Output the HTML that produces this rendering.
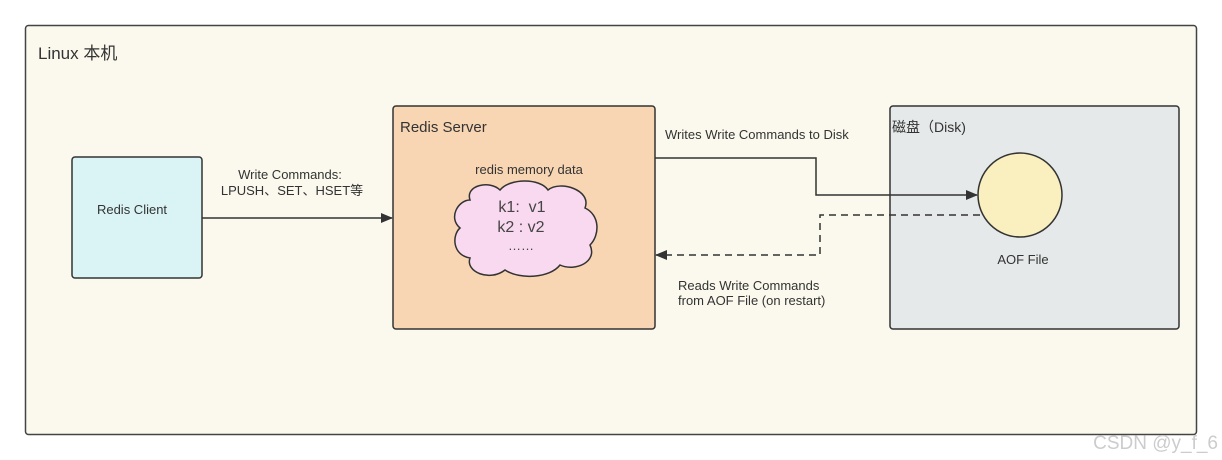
<!DOCTYPE html>
<html><head><meta charset="utf-8"><style>
html,body{margin:0;padding:0;background:#fff;}
svg{display:block;font-family:"Liberation Sans","Noto Sans CJK SC",sans-serif;}
</style></head><body>
<svg width="1222" height="460" viewBox="0 0 1222 460" xmlns="http://www.w3.org/2000/svg">
<defs>
<marker id="ah" markerWidth="12" markerHeight="10" refX="11" refY="5" orient="auto" markerUnits="userSpaceOnUse">
<path d="M0,0 L12,5 L0,10 Z" fill="#333"/></marker>
</defs>
<rect x="25.5" y="25.5" width="1171" height="409" rx="3" fill="#fbf9ed" stroke="#444" stroke-width="1.5"/>
<text x="38" y="59" font-size="17" fill="#333">Linux 本机</text>

<rect x="72" y="157" width="130" height="121" rx="3" fill="#daf4f6" stroke="#333" stroke-width="1.5"/>
<text x="132" y="214" font-size="13" fill="#333" text-anchor="middle">Redis Client</text>

<text x="290" y="179" font-size="13" fill="#333" text-anchor="middle">Write Commands:</text>
<text x="292" y="195" font-size="13" fill="#333" text-anchor="middle">LPUSH、SET、HSET等</text>
<line x1="202" y1="218" x2="392" y2="218" stroke="#333" stroke-width="1.5" marker-end="url(#ah)"/>

<rect x="393" y="106" width="262" height="223" rx="3" fill="#f8d5b3" stroke="#333" stroke-width="1.5"/>
<text x="400" y="132" font-size="15" fill="#333">Redis Server</text>
<text x="529" y="174" font-size="13" fill="#333" text-anchor="middle">redis memory data</text>
<path d="M470,200 C465,185 490,180 500,190 C510,178 540,178 548,190 C560,180 592,190 585,208 C600,215 600,235 590,245 C598,262 575,272 560,265 C550,278 520,280 505,270 C490,282 465,272 470,258 C452,255 452,235 460,228 C448,218 458,200 470,200 Z" fill="#f9d9ef" stroke="#333" stroke-width="1.5"/>
<text x="522" y="212" font-size="16" fill="#444" text-anchor="middle">k1:&#160; v1</text>
<text x="521" y="232" font-size="16" fill="#444" text-anchor="middle">k2 : v2</text>
<text x="521" y="250" font-size="13" fill="#444" text-anchor="middle">……</text>

<rect x="890" y="106" width="289" height="223" rx="3" fill="#e6e9ea" stroke="#333" stroke-width="1.5"/>
<text x="892" y="132" font-size="14" fill="#333">磁盘（Disk)</text>
<circle cx="1020" cy="195" r="42" fill="#f9efbf" stroke="#333" stroke-width="1.5"/>
<text x="1023" y="264" font-size="13" fill="#333" text-anchor="middle">AOF File</text>

<text x="665" y="139" font-size="13" fill="#333">Writes Write Commands to Disk</text>
<polyline points="655,158 816,158 816,195 977,195" fill="none" stroke="#333" stroke-width="1.5" marker-end="url(#ah)"/>
<polyline points="980,215 820,215 820,255 656,255" fill="none" stroke="#333" stroke-width="1.5" stroke-dasharray="7,5" marker-end="url(#ah)"/>
<text x="678" y="290" font-size="13" fill="#333">Reads Write Commands</text>
<text x="678" y="305" font-size="13" fill="#333">from AOF File (on restart)</text>

<text x="1218" y="449" font-size="19" fill="#ccc" text-anchor="end">CSDN @y_f_6</text>
</svg>
</body></html>
